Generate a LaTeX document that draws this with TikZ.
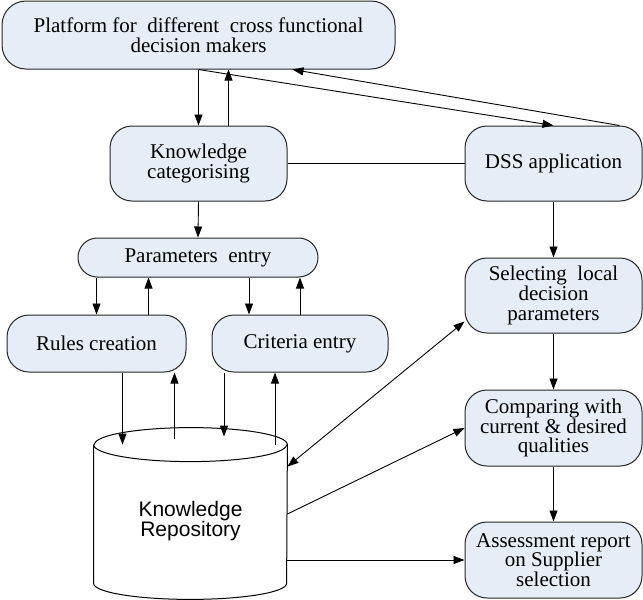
\documentclass[tikz,border=0pt]{standalone}
\usepackage{fontspec}
\setmainfont{Liberation Serif}
\setsansfont{Liberation Sans}
\usetikzlibrary{arrows.meta}
\definecolor{boxfill}{RGB}{231,237,247}
\begin{document}
\begin{tikzpicture}[x=0.5pt, y=-0.5pt, line join=round, >={Triangle[length=5.5pt,width=4pt]},
        font=\fontsize{10.5}{9.8}\selectfont,
        box/.style={draw=black!85, fill=boxfill, line width=0.5pt, align=center, inner sep=0pt, rounded corners=11pt},
        conn/.style={line width=0.45pt}]
    \useasboundingbox (0,0) rectangle (643,600);
    % left column
    \node[box, minimum width=196.5pt, minimum height=34pt, rounded corners=12pt] (platform) at (198.5,35) {Platform for\ \ different\ \ cross functional\\decision makers};
    \node[box, minimum width=88.5pt, minimum height=37.5pt] (kc) at (198.5,163.5) {Knowledge\\categorising};
    \node[box, minimum width=120pt, minimum height=19.5pt, rounded corners=9.7pt] (params) at (198,257.5) {Parameters\ \ entry};
    \node[box, minimum width=89.5pt, minimum height=28.5pt] (rules) at (96.5,343.5) {Rules creation};
    \node[box, minimum width=88pt, minimum height=28.5pt] (criteria) at (300,343.5) {Criteria entry};
    \node[minimum width=96.5pt, minimum height=69pt, inner sep=0pt] (repo) at (190.5,514) {};
    \node[align=center, font=\sffamily\fontsize{10.5}{10}\selectfont] (repotext) at ([yshift=-3.5pt]repo.center) {Knowledge\\Repository};
    \draw[line width=0.5pt] (repo.north west) -- (repo.south west)
        arc[start angle=180, end angle=360, x radius=48.25pt, y radius=8pt] -- (repo.north east)
        arc[start angle=0, end angle=180, x radius=48.25pt, y radius=8.5pt];
    \draw[line width=0.5pt] (repo.north west) arc[start angle=180, end angle=360, x radius=48.25pt, y radius=8.5pt];
    % right column
    \node[box, minimum width=88.5pt, minimum height=37.5pt] (dss) at (553.5,163.5) {DSS application};
    \node[box, minimum width=88.5pt, minimum height=37.5pt] (select) at (553.5,295.5) {Selecting\ \ local\\decision\\parameters};
    \node[box, minimum width=88.5pt, minimum height=38pt] (compare) at (553.5,428) {Comparing with\\current \& desired\\qualities};
    \node[box, minimum width=88.5pt, minimum height=38pt] (assess) at (553.5,560) {Assessment report\\on Supplier\\selection};
    % connectors
    \draw[conn,->] (platform.south) -- (kc.north);
    \draw[conn,->] ([xshift=15pt]kc.north) -- ([xshift=15pt]kc.north |- platform.south);
    \draw[conn,->] (platform.south) -- (dss.north);
    \draw[conn,->] ([xshift=33pt]dss.north) -- ([xshift=47pt]platform.south);
    \draw[conn] (kc.east) -- (dss.west);
    \draw[conn,->] (kc.south) -- (params.north);
    \draw[conn,->] (params.south -| rules.north) -- (rules.north);
    \draw[conn,->] ([xshift=26pt]rules.north) -- ([xshift=26pt]rules.north |- params.south);
    \draw[conn,->] ([xshift=-25.5pt]criteria.north |- params.south) -- ([xshift=-25.5pt]criteria.north);
    \draw[conn,->] (criteria.north) -- (criteria.north |- params.south);
    \draw[conn,->] ([xshift=13pt]rules.south) -- ([xshift=13pt]rules.south |- repo.north);
    \draw[conn,->] ([xshift=39pt,yshift=3pt]rules.south |- repo.north) -- ([xshift=39pt]rules.south);
    \draw[conn,->] ([xshift=-38pt]criteria.south) -- ([xshift=-38pt,yshift=4pt]criteria.south |- repo.north);
    \draw[conn,->] ([xshift=-12.5pt]criteria.south |- repo.north) -- ([xshift=-12.5pt]criteria.south);
    \draw[conn,<->] ([yshift=-11pt]repo.north east) -- ([yshift=-13pt]select.west);
    \draw[conn,->] (repo.east) -- (compare.west);
    \draw[conn,->] (repo.east |- assess.west) -- (assess.west);
    \draw[conn,->] (dss.south) -- (select.north);
    \draw[conn,->] (select.south) -- (compare.north);
    \draw[conn,->] (compare.south) -- (assess.north);
\end{tikzpicture}
\end{document}
